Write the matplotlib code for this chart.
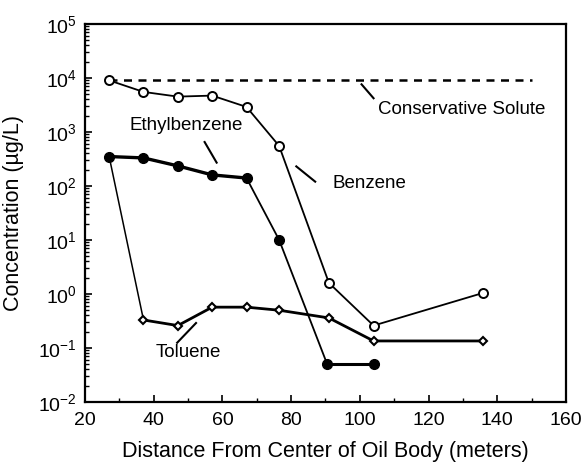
import matplotlib
matplotlib.use("Agg")
import matplotlib.pyplot as plt
from matplotlib.ticker import LogLocator, NullFormatter, MultipleLocator

plt.rcParams['font.family'] = ['Liberation Sans', 'DejaVu Sans']

# Concentrations (ug/L) against distance from center of oil body (m)
benzene_x = [27, 37, 47, 57, 67, 76.5, 91, 104, 136]
benzene = [9000, 5500, 4500, 4700, 2900, 550, 1.6, 0.26, 1.05]

ethylbenzene_x = [27, 37, 47, 57, 67, 76.5, 90.5, 104]
ethylbenzene = [350, 330, 235, 160, 140, 10, 0.05, 0.05]

toluene_x = [27, 37, 47, 57, 67, 76.5, 91, 104, 136]
toluene = [350, 0.33, 0.26, 0.57, 0.57, 0.50, 0.36, 0.135, 0.135]

conservative_x = [27, 150]
conservative = [9000, 9000]

fig = plt.figure(figsize=(5.87, 4.68), dpi=100)
ax = fig.add_axes([0.145, 0.141, 0.819, 0.808])
ax.set_yscale('log')

# Conservative solute
ax.plot(conservative_x, conservative, color='black', lw=1.8,
        dashes=(3.2, 2.6), zorder=2)

# Benzene
ax.plot(benzene_x, benzene, color='black', lw=1.3, marker='o', ms=6.5,
        mfc='white', mec='black', mew=1.4, zorder=4)

# Ethylbenzene: heavy upper plateau, lighter drop-off
ax.plot(ethylbenzene_x, ethylbenzene, color='black', lw=1.3, zorder=3)
ax.plot(ethylbenzene_x[:5], ethylbenzene[:5], color='black', lw=2.4, zorder=3)
ax.plot(ethylbenzene_x[-2:], ethylbenzene[-2:], color='black', lw=2.2, zorder=3)
ax.plot(ethylbenzene_x, ethylbenzene, ls='none', marker='o', ms=7,
        mfc='black', mec='black', zorder=5)

# Toluene: thin first segment, heavier remainder
ax.plot(toluene_x[:2], toluene[:2], color='black', lw=1.1, zorder=3)
ax.plot(toluene_x[1:], toluene[1:], color='black', lw=2.0, marker='D', ms=4.5,
        mfc='white', mec='black', mew=1.5, zorder=4)

ax.set_xlim(20, 160)
ax.set_ylim(1e-2, 1e5)

ax.xaxis.set_major_locator(MultipleLocator(20))
ax.xaxis.set_minor_locator(MultipleLocator(10))
ax.yaxis.set_major_locator(LogLocator(base=10, numticks=20))
ax.yaxis.set_minor_locator(LogLocator(base=10, subs=range(2, 10), numticks=20))
ax.yaxis.set_minor_formatter(NullFormatter())

ax.tick_params(axis='both', which='major', direction='in', length=5, width=1.2,
               labelsize=14, top=False, right=False, pad=7)
ax.tick_params(axis='both', which='minor', direction='in', length=3, width=1.0,
               top=False, right=False)
ax.tick_params(axis='y', which='major', pad=6)

for s in ax.spines.values():
    s.set_linewidth(1.6)

ax.set_xlabel('Distance From Center of Oil Body (meters)', fontsize=15.5, labelpad=9)
ax.set_ylabel('Concentration (\u00b5g/L)', fontsize=15.5, labelpad=10)

# Series labels with leader ticks
lbl = dict(fontsize=13.5, color='black')
ax.text(105.3, 2600, 'Conservative Solute', va='center', ha='left', **lbl)
ax.plot([100.5, 104], [7600, 4200], color='black', lw=1.5)

ax.text(33, 1300, 'Ethylbenzene', va='center', ha='left', **lbl)
ax.plot([54.8, 58.3], [650, 270], color='black', lw=1.5)

ax.text(92, 110, 'Benzene', va='center', ha='left', **lbl)
ax.plot([81.5, 87], [230, 120], color='black', lw=1.5)

ax.text(40.6, 0.082, 'Toluene', va='center', ha='left', **lbl)
ax.plot([46.8, 52.3], [0.125, 0.29], color='black', lw=1.5)

fig.savefig('out.png', dpi=100)
